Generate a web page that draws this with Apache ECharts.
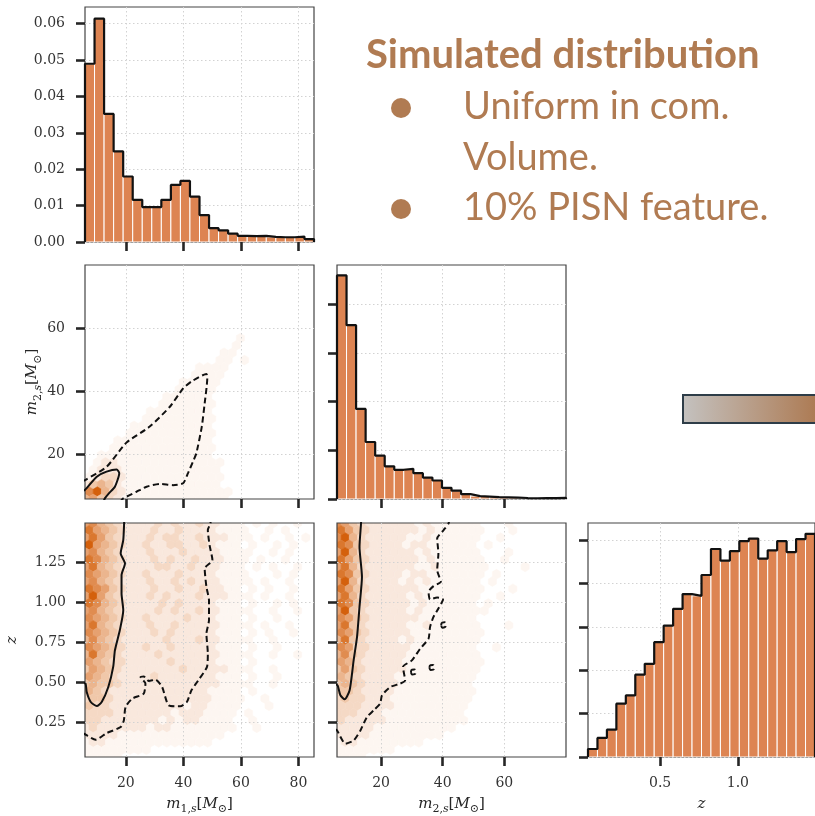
<!DOCTYPE html>
<html>
<head>
<meta charset="utf-8">
<script src="https://cdn.jsdelivr.net/npm/echarts@6/dist/echarts.min.js"></script>
<style>
  html, body { margin: 0; padding: 0; background: #ffffff; }
  #chart { width: 815px; height: 816px; }
</style>
</head>
<body>
<div id="chart"></div>
<script>
// ---------- parameter ranges ----------
const m1Range = [5.8, 85.4];
const m2Range = [5.7, 80.0];
const zRange = [0.036, 1.496];

// ---------- tick values ----------
const m1Ticks = [20, 40, 60, 80];
const m2Ticks = [20, 40, 60];
const zTicks2d = [0.25, 0.5, 0.75, 1.0, 1.25];
const zHistTicks = [0.5, 1.0, 1.5];
const m1DensTicks = [0, 0.01, 0.02, 0.03, 0.04, 0.05, 0.06];
const m2DensTicks = [0, 0.02, 0.04, 0.06, 0.08];
const zDensTicks = [0, 0.2, 0.4, 0.6, 0.8, 1.0];

// ---------- 1D marginal histograms (24 bins over each range, normalised density) ----------
const m1Density = [0.0490, 0.0614, 0.0352, 0.0249, 0.0180, 0.0116, 0.0096, 0.0096,
                   0.0116, 0.0157, 0.0168, 0.0125, 0.0074, 0.0038, 0.0032, 0.0023,
                   0.0017, 0.0016, 0.0017, 0.0014, 0.0013, 0.0013, 0.0015, 0.0008];
const m2Density = [0.0918, 0.0714, 0.0370, 0.0234, 0.0178, 0.0134, 0.0120, 0.0124,
                   0.0106, 0.0088, 0.0076, 0.0046, 0.0034, 0.0020, 0.0012, 0.0010,
                   0.0008, 0.0007, 0.0006, 0.0004, 0.0003, 0.0004, 0.0004, 0.0005];
const zDensity  = [0.037, 0.088, 0.126, 0.246, 0.284, 0.380, 0.430, 0.530,
                   0.606, 0.684, 0.752, 0.744, 0.840, 0.960, 0.906, 0.950,
                   0.996, 1.008, 0.916, 0.954, 0.996, 0.946, 1.006, 1.030];
const densMax = { m1: 0.0646, m2: 0.0961, z: 1.08 };

// ---------- hexbin shading levels (0-9), rows listed top to bottom ----------
// even rows sit on the main lattice, odd rows on the half-offset lattice
const hexM1M2 = [
  "0","0","0","0","0","0","0","0","0","0",
  "000000000000000000010",
  "0000000000000000001",
  "000000000000000001100",
  "000000000000000011010",
  "00000000000000111100",
  "0000000000000111100",
  "0000000000001111100",
  "000000000001111100",
  "0000000000111111000",
  "000000000111111100",
  "0000000011111111000",
  "000000011111111100",
  "000000111111111100",
  "000001111111111100",
  "0000111111111111000",
  "000111111111111100",
  "0011111111111111000",
  "0122111111111111100",
  "0122211111111111100",
  "1233211111111111100",
  "2454211111111111100",
  "7953211111111111110",
  "5643211111111111110"
];
const hexM1Z = [
  "67543222232322322111010100100",
  "8654322232232222111100101000",
  "68643222323322322211101001010",
  "9654322322332232111010010100",
  "67543222322232222111100101000",
  "8754322232322322211101001000",
  "68543222233223222111010100100",
  "7654322322232222111100010100",
  "67543222322323222111101001000",
  "8764322232232232211010100100",
  "69643222323222322211101001000",
  "8754322223232222111010010100",
  "67543222232322322111100100100",
  "7654322322223222111010010000",
  "68543222322322222111101001000",
  "7654322232322222111010100100",
  "57543222223222322111100100000",
  "7654322322322222111010010000",
  "58543222232222222111100100100",
  "6543322222322222111010000000",
  "46543222222232222211100100000",
  "6543222232222222111010010000",
  "45443222222222222111100100000",
  "5432222222222221111010000000",
  "34432222222222221111001000000",
  "4332222222221221111000100000",
  "33332222222122211110100000000",
  "3322222221212211110010000000",
  "23222222122111111110010000000",
  "2222111111111111100000000000",
  "12211111111111110000000000000",
  "1111111100000000000000000000",
  "1111100000000000000000000000"
];
const hexM2Z = [
  "76432222221211111100010000000",
  "8643222222121111110001000000",
  "79532222211211111100100000000",
  "8743222212211111101000000000",
  "69532222221211111100010000000",
  "8643222222121111110010000000",
  "68532222221121111110000100000",
  "8743222212211111110100000000",
  "69532222121211111101000000000",
  "8643222222111111110001000000",
  "68532222212111111100100000000",
  "8743222221211111101000000000",
  "69432222212111111110000000000",
  "7643222222111111100000000000",
  "68432222211211111100010000000",
  "7643222221111111110000000000",
  "58432222121111111100000000000",
  "7633222221111111100100000000",
  "57432222211111111100000000000",
  "6532222211111111110000000000",
  "46432222211111111100000000000",
  "5432222111111111100000000000",
  "45432222111111111000000000000",
  "4432222111111111100000000000",
  "34332221111111111000000000000",
  "3332222111111111000000000000",
  "33322211111111110000000000000",
  "3222221111111111000000000000",
  "22222111111111100000000000000",
  "2222111111111000000000000000",
  "12211111111000000000000000000",
  "1111111000000000000000000000",
  "1111000000000000000000000000"
];

// ---------- credible-region contours ----------
const m1m2Inner = [[5.0,8.3],[5.8,8.6],[9.9,12.8],[13.3,14.4],[16.8,15.1],[17.7,13.9],
                   [16.2,9.6],[14.1,7.5],[12.7,5.9],[12.3,5.0]];
const m1m2Outer = [[5.0,11.3],[5.8,11.7],[13.3,15.9],[20.2,23.6],[28.3,28.7],[35.3,35.0],
                   [39.9,40.8],[42.8,43.0],[48.0,45.4],[48.3,44.0],[47.4,36.1],[46.4,28.7],
                   [44.5,20.2],[43.3,17.5],[41.6,13.9],[39.9,10.7],[36.4,10.1],[31.8,10.5],
                   [27.2,9.6],[23.7,8.0],[19.1,5.9],[18.2,5.0]];
const m1zInner = [[5.0,0.50],[6.0,0.494],[6.4,0.441],[7.8,0.379],[9.9,0.354],[11.6,0.379],
                  [13.9,0.473],[15.6,0.598],[16.2,0.702],[17.9,0.827],[19.1,0.952],[18.5,1.056],
                  [18.5,1.171],[19.7,1.244],[18.2,1.306],[19.1,1.389],[19.4,1.494],[19.5,1.56]];
const m1zOuter = [[5.0,0.185],[5.45,0.181],[9.5,0.144],[13.3,0.185],[18.2,0.223],[19.3,0.264],
                  [19.9,0.348],[22.2,0.40],[26.2,0.431],[26.8,0.494],[25.1,0.535],[26.2,0.539],
                  [28.0,0.51],[30.3,0.519],[32.6,0.473],[34.9,0.358],[38.9,0.352],[41.2,0.379],
                  [42.8,0.452],[45.6,0.525],[48.2,0.598],[48.5,0.681],[48.0,0.806],[48.9,0.889],
                  [48.9,1.014],[48.0,1.098],[47.4,1.212],[50.1,1.264],[49.1,1.358],[48.5,1.452],
                  [49.4,1.494],[49.6,1.56]];
const m2zInner = [[5.0,0.49],[5.9,0.483],[6.8,0.421],[8.2,0.396],[9.8,0.452],[11.1,0.639],
                  [12.2,0.785],[13.0,0.973],[13.8,1.160],[13.0,1.348],[13.5,1.494],[13.6,1.56]];
const m2zOuter = [[5.0,0.21],[5.7,0.202],[8.4,0.119],[11.1,0.139],[13.3,0.202],[15.4,0.285],
                  [17.6,0.327],[19.7,0.369],[20.3,0.421],[23.0,0.473],[26.2,0.494],[27.8,0.514],
                  [27.1,0.598],[30.0,0.639],[32.7,0.712],[35.4,0.775],[35.9,0.848],[37.0,0.910],
                  [38.6,0.962],[40.1,1.019],[38.2,1.031],[35.9,1.019],[35.4,1.066],[37.0,1.102],
                  [39.4,1.129],[38.2,1.202],[38.6,1.306],[38.2,1.400],[40.3,1.452],[41.9,1.494],
                  [42.5,1.56]];
const m2zIslands = [
  [[39.5,0.858],[39.8,0.874],[40.6,0.876],[41.0,0.862],[40.7,0.846],[39.9,0.843],[39.5,0.858]],
  [[35.7,0.594],[36.0,0.609],[36.8,0.610],[37.2,0.596],[36.9,0.581],[36.1,0.579],[35.7,0.594]],
  [[29.7,0.566],[30.0,0.581],[30.8,0.582],[31.2,0.568],[30.9,0.553],[30.1,0.551],[29.7,0.566]]
];

// ---------- annotation text ----------
const titleText = 'Simulated distribution';
const bulletTexts = [['Uniform in com.', 'Volume.'], ['10% PISN feature.']];

// ---------- styling ----------
const BAR = '#dd8452';
const HEX_DARK = [212, 96, 12];
const HEX_GAMMA = 1.3;
const ANNOT = '#b07b52';
const TICK_FONT = 'DejaVu Serif';
const NBINS = 24;
const HEX_NX = 28, HEX_NY = 16;

function hexColor(level) {
  const t = Math.pow(level / 9, HEX_GAMMA);
  const c = HEX_DARK.map(v => Math.round(255 - t * (255 - v)));
  return 'rgb(' + c.join(',') + ')';
}

function histRects(range, dens) {
  const w = (range[1] - range[0]) / NBINS;
  return dens.map((h, i) => [range[0] + i * w, range[0] + (i + 1) * w, h]);
}
function histOutline(range, dens) {
  const w = (range[1] - range[0]) / NBINS;
  const pts = [[range[0], 0]];
  dens.forEach((h, i) => {
    pts.push([range[0] + i * w, h]);
    pts.push([range[0] + (i + 1) * w, h]);
  });
  pts.push([range[1], 0]);
  return pts;
}
function hexCells(rows, xr, yr) {
  const sx = (xr[1] - xr[0]) / HEX_NX, sy = (yr[1] - yr[0]) / HEX_NY;
  const cells = [];
  rows.forEach((row, r) => {
    const off = r % 2 === 1;
    const y = off ? yr[0] + (HEX_NY - 1 - (r - 1) / 2 + 0.5) * sy : yr[0] + (HEX_NY - r / 2) * sy;
    for (let i = 0; i < row.length; i++) {
      const lv = +row[i];
      if (lv > 0) cells.push([xr[0] + (i + (off ? 0.5 : 0)) * sx, y, lv]);
    }
  });
  return { cells, sx, sy };
}

// ---------- layout of the six panels ----------
const grids = [
  { left: 85,  top: 7,   width: 229, height: 235 },  // m1 histogram
  { left: 85,  top: 265, width: 229, height: 234 },  // m1 vs m2
  { left: 337, top: 265, width: 229, height: 234 },  // m2 histogram
  { left: 85,  top: 523, width: 229, height: 234 },  // m1 vs z
  { left: 337, top: 523, width: 229, height: 234 },  // m2 vs z
  { left: 588, top: 523, width: 230, height: 234 }   // z histogram
].map(g => Object.assign({ show: true, borderColor: '#444444', borderWidth: 1.2, backgroundColor: 'transparent' }, g));

const nameRich = {
  i:  { fontFamily: TICK_FONT, fontStyle: 'italic', fontSize: 15, lineHeight: 22, color: '#262626' },
  n:  { fontFamily: TICK_FONT, fontSize: 15, lineHeight: 22, color: '#262626' },
  s:  { fontFamily: TICK_FONT, fontSize: 11, lineHeight: 11, verticalAlign: 'bottom', color: '#262626' },
  si: { fontFamily: TICK_FONT, fontStyle: 'italic', fontSize: 11, lineHeight: 11, verticalAlign: 'bottom', color: '#262626' }
};
const m1Name = '{i|m}{s|1,}{si|s}{n|[}{i|M}{s|⊙}{n|]}';
const m2Name = '{i|m}{s|2,}{si|s}{n|[}{i|M}{s|⊙}{n|]}';
const zName = '{i|z}';

function axis(gridIndex, range, ticks, opts) {
  opts = opts || {};
  const a = {
    type: 'value', gridIndex, min: range[0], max: range[1],
    axisLine: { show: false },
    axisTick: { show: true, length: 9, customValues: ticks, lineStyle: { color: '#262626', width: 2.6 } },
    axisLabel: {
      show: !!opts.labels, customValues: ticks, margin: opts.margin || 19,
      fontFamily: TICK_FONT, fontSize: 14, color: '#333333',
      formatter: opts.fmt || (v => String(v))
    },
    splitLine: { show: true, lineStyle: { color: '#d2d2d2', width: 1, type: [1.5, 2.5] } }
  };
  if (opts.name) {
    a.name = opts.name;
    a.nameLocation = 'middle';
    a.nameGap = opts.nameGap;
    a.nameTextStyle = { rich: nameRich };
    if (opts.rotate) a.nameRotate = 90;
  }
  return a;
}

const xAxes = [
  axis(0, m1Range, m1Ticks),
  axis(1, m1Range, m1Ticks),
  axis(2, m2Range, m2Ticks),
  axis(3, m1Range, m1Ticks, { labels: true, name: m1Name, nameGap: 36 }),
  axis(4, m2Range, m2Ticks, { labels: true, name: m2Name, nameGap: 36 }),
  axis(5, zRange, zHistTicks, { labels: true, fmt: v => v.toFixed(1), name: zName, nameGap: 36 })
];
const yAxes = [
  axis(0, [0, densMax.m1], m1DensTicks, { labels: true, fmt: v => v.toFixed(2), margin: 20 }),
  axis(1, m2Range, m2Ticks, { labels: true, margin: 20, name: m2Name, nameGap: 34, rotate: true }),
  axis(2, [0, densMax.m2], m2DensTicks),
  axis(3, zRange, zTicks2d, { labels: true, fmt: v => v.toFixed(2), margin: 19, name: zName, nameGap: 62, rotate: true }),
  axis(4, zRange, zTicks2d),
  axis(5, [0, densMax.z], zDensTicks)
];

function histSeries(idx, range, dens) {
  return [
    {
      type: 'custom', xAxisIndex: idx, yAxisIndex: idx, clip: true, z: 2,
      data: histRects(range, dens),
      renderItem: (params, api) => {
        const p0 = api.coord([api.value(0), api.value(2)]);
        const p1 = api.coord([api.value(1), 0]);
        return {
          type: 'rect',
          shape: { x: p0[0], y: p0[1], width: p1[0] - p0[0], height: p1[1] - p0[1] },
          style: { fill: BAR, stroke: '#ffffff', lineWidth: 1 }
        };
      }
    },
    {
      type: 'line', xAxisIndex: idx, yAxisIndex: idx, data: histOutline(range, dens),
      showSymbol: false, symbol: 'none', z: 3, clip: true,
      lineStyle: { color: '#111111', width: 2.2 }
    }
  ];
}

function hexSeries(idx, rows, xr, yr) {
  const h = hexCells(rows, xr, yr);
  return {
    type: 'custom', xAxisIndex: idx, yAxisIndex: idx, clip: true, z: -1,
    data: h.cells,
    renderItem: (params, api) => {
      const c = api.coord([api.value(0), api.value(1)]);
      const s = api.size([h.sx, h.sy]);
      const w = s[0], hh = s[1] / 3;
      const pts = [[0.5, -0.5], [0.5, 0.5], [0, 1], [-0.5, 0.5], [-0.5, -0.5], [0, -1]]
        .map(p => [c[0] + p[0] * w, c[1] + p[1] * hh]);
      const col = hexColor(api.value(2));
      return { type: 'polygon', shape: { points: pts }, style: { fill: col, stroke: col, lineWidth: 0.6 } };
    }
  };
}

function contour(idx, pts, dashed) {
  return {
    type: 'line', xAxisIndex: idx, yAxisIndex: idx, data: pts, showSymbol: false, symbol: 'none',
    clip: true, z: 4, smooth: 0.2,
    lineStyle: { color: '#111111', width: 2, type: dashed ? [6, 3.5] : 'solid' }
  };
}

const series = [].concat(
  histSeries(0, m1Range, m1Density),
  histSeries(2, m2Range, m2Density),
  histSeries(5, zRange, zDensity),
  [
    hexSeries(1, hexM1M2, m1Range, m2Range),
    hexSeries(3, hexM1Z, m1Range, zRange),
    hexSeries(4, hexM2Z, m2Range, zRange),
    contour(1, m1m2Inner, false), contour(1, m1m2Outer, true),
    contour(3, m1zInner, false), contour(3, m1zOuter, true),
    contour(4, m2zInner, false), contour(4, m2zOuter, true)
  ],
  m2zIslands.map(p => Object.assign(contour(4, p, true), { smooth: 0.5 }))
);

// ---------- annotation block ----------
const textStyle = (text, font) => ({ text, font, fill: ANNOT, textAlign: 'left', textVerticalAlign: 'middle', align: 'left', verticalAlign: 'middle' });
const graphic = [
  { type: 'text', x: 366, y: 55, style: textStyle(titleText, 'bold 40px Lato') },
  { type: 'circle', shape: { cx: 401, cy: 108, r: 10 }, style: { fill: ANNOT } },
  { type: 'text', x: 463, y: 107, style: textStyle(bulletTexts[0][0], '38px Lato') },
  { type: 'text', x: 463, y: 158, style: textStyle(bulletTexts[0][1], '38px Lato') },
  { type: 'circle', shape: { cx: 401, cy: 209, r: 10 }, style: { fill: ANNOT } },
  { type: 'text', x: 463, y: 208, style: textStyle(bulletTexts[1][0], '38px Lato') },
  {
    type: 'rect', shape: { x: 683, y: 395, width: 142, height: 28 },
    style: {
      fill: new echarts.graphic.LinearGradient(0, 0, 1, 0, [
        { offset: 0, color: '#c4c2c0' }, { offset: 0.93, color: '#ad7b54' }, { offset: 1, color: '#ab7850' }
      ]),
      stroke: '#2e3d48', lineWidth: 2
    }
  }
];

const chart = echarts.init(document.getElementById('chart'), null, { renderer: 'canvas' });
chart.setOption({
  animation: false,
  backgroundColor: '#ffffff',
  grid: grids,
  xAxis: xAxes,
  yAxis: yAxes,
  series: series,
  graphic: graphic
});
</script>
</body>
</html>
